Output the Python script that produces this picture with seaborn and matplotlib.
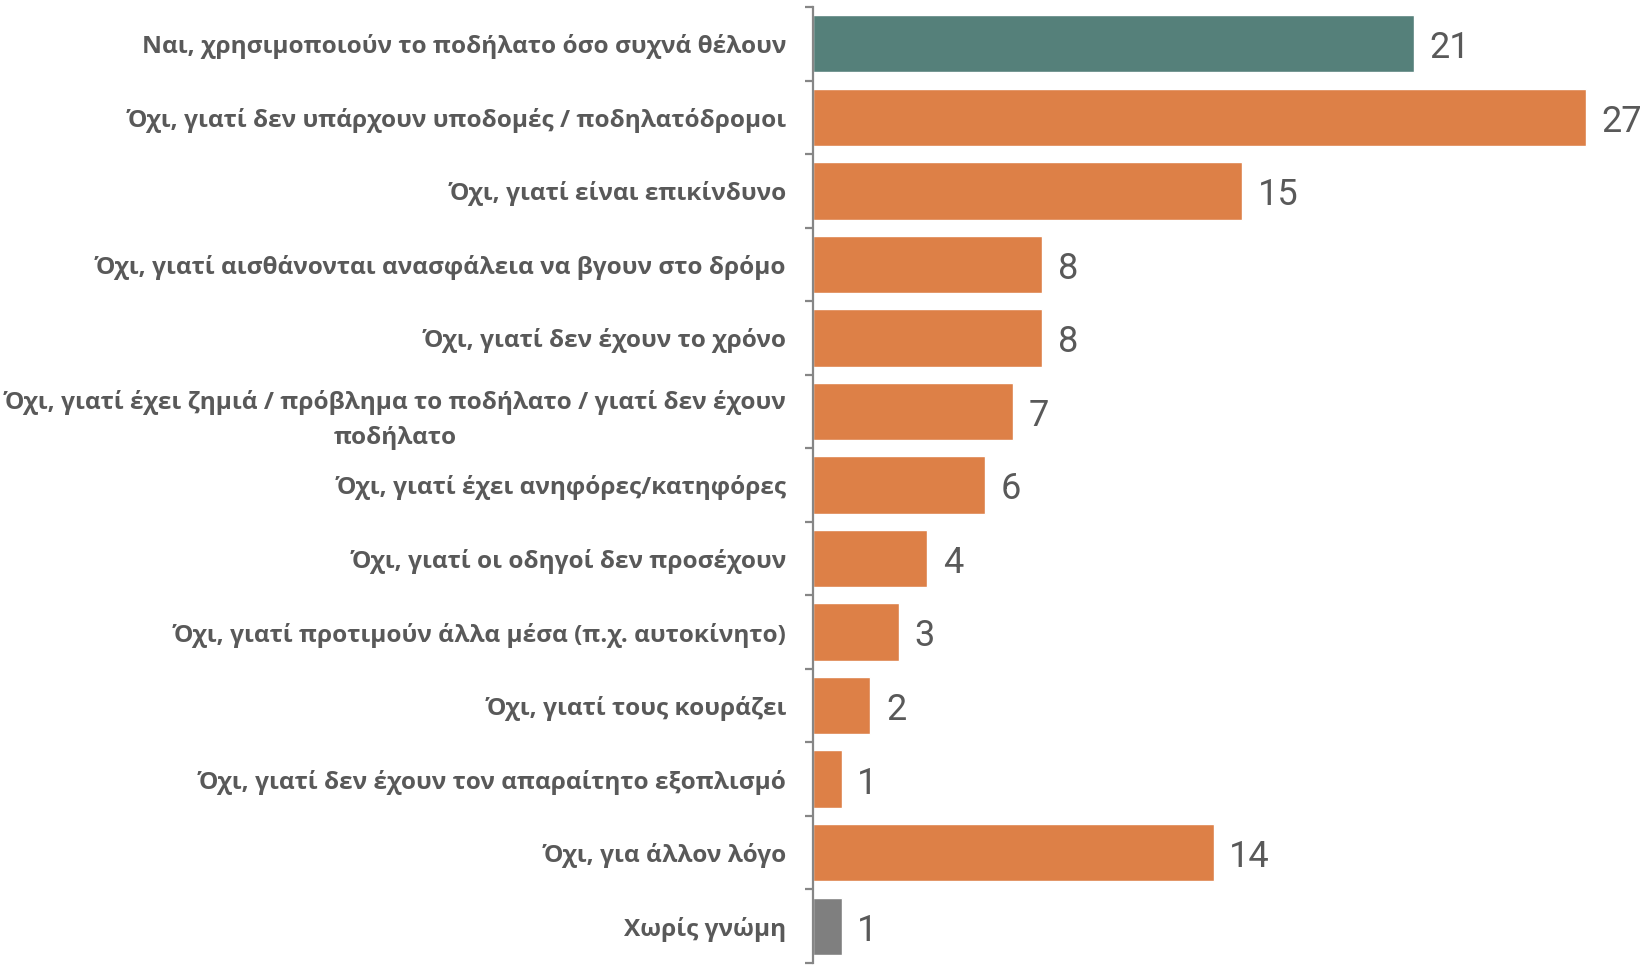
import matplotlib
matplotlib.use("Agg")
import matplotlib.pyplot as plt
import seaborn as sns
import pandas as pd
import numpy as np

categories = [
    "Ναι, χρησιμοποιούν το ποδήλατο όσο συχνά θέλουν",
    "Όχι, γιατί δεν υπάρχουν υποδομές / ποδηλατόδρομοι",
    "Όχι, γιατί είναι επικίνδυνο",
    "Όχι, γιατί αισθάνονται ανασφάλεια να βγουν στο δρόμο",
    "Όχι, γιατί δεν έχουν το χρόνο",
    "Όχι, γιατί έχει ζημιά / πρόβλημα το ποδήλατο / γιατί δεν έχουν\nποδήλατο",
    "Όχι, γιατί έχει ανηφόρες/κατηφόρες",
    "Όχι, γιατί οι οδηγοί δεν προσέχουν",
    "Όχι, γιατί προτιμούν άλλα μέσα (π.χ. αυτοκίνητο)",
    "Όχι, γιατί τους κουράζει",
    "Όχι, γιατί δεν έχουν τον απαραίτητο εξοπλισμό",
    "Όχι, για άλλον λόγο",
    "Χωρίς γνώμη",
]
values = [21, 27, 15, 8, 8, 7, 6, 4, 3, 2, 1, 14, 1]
colors = ["#55807A"] + ["#DD8047"] * 11 + ["#7F7F7F"]

df = pd.DataFrame({"cat": categories, "val": values})

sns.set_style("white")
plt.rcParams["font.family"] = ["Open Sans", "DejaVu Sans"]

fig = plt.figure(figsize=(16.43, 9.65), dpi=100)
ax = fig.add_axes([813 / 1643, 2 / 965, 1 - 813 / 1643 - 3 / 1643, 956 / 965])

sns.barplot(data=df, x="val", y="cat", hue="cat", palette=colors, order=categories,
            hue_order=categories, legend=False, width=0.78, orient="h", ax=ax,
            saturation=1)

ax.set_xlim(0, 28.9)
ax.set_ylim(len(categories) - 0.5, -0.5)
ax.set_xlabel("")
ax.set_ylabel("")
ax.set_xticks([])

for s in ["top", "right", "bottom"]:
    ax.spines[s].set_visible(False)
ax.spines["left"].set_color("#868686")
ax.spines["left"].set_linewidth(1.6)

ax.set_yticks(np.arange(len(categories)))
ax.set_yticklabels(categories)
ax.tick_params(axis="y", which="major", length=0, pad=19, left=True)
ax.set_yticks(np.arange(len(categories) + 1) - 0.5, minor=True)
ax.tick_params(axis="y", which="minor", length=6, width=1.6, color="#868686", left=True)
for lbl in ax.get_yticklabels():
    lbl.set_fontsize(17.6)
    lbl.set_fontweight("bold")
    lbl.set_color("#595959")
    lbl.set_multialignment("center")
    lbl.set_linespacing(1.6)

for i, v in enumerate(values):
    ax.text(v + 0.55, i + 0.06, str(v), va="center", ha="left", fontsize=26,
            color="#595959", family="Roboto")

fig.savefig("out.png", dpi=100)
